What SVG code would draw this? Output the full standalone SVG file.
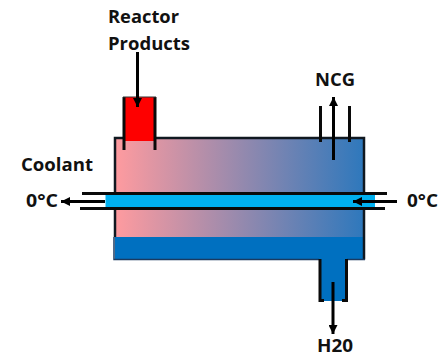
<svg xmlns="http://www.w3.org/2000/svg" width="446" height="355" viewBox="0 0 446 355">
<style>
text{font-family:"Open Sans","Liberation Sans",sans-serif;font-weight:700;font-size:18px;fill:#111}
.w{stroke:#0a0a0a;stroke-width:3;fill:none}
.a{stroke:#000;stroke-width:3;fill:none;marker-end:url(#ah)}
</style>
<defs>
<linearGradient id="g" x1="0" x2="1" y1="0" y2="0"><stop offset="0" stop-color="#ff9b9f"/><stop offset="1" stop-color="#2e78bc"/></linearGradient>
<marker id="ah" markerUnits="userSpaceOnUse" markerWidth="10" markerHeight="9" refX="9" refY="4.500" orient="auto"><path d="M0 0L9 4.500L0 9Z" fill="#000"/></marker>
</defs>
<rect width="446" height="355" fill="#fff"/>
<g id="condenser-body">
<rect x="115" y="139" width="249" height="120" fill="url(#g)"/>
<rect x="115" y="237" width="249" height="22" fill="#0070c0"/>
<path d="M115 237V138H364V259.500" fill="none" stroke="#101820" stroke-width="2.500"/>
<path d="M114 237V259.500H319M347 259.500H365" fill="none" stroke="#1a3a60" stroke-width="1.500"/>
</g>
<g id="inlet-nozzle">
<rect x="124" y="97" width="31" height="44" fill="#fe0000"/>
<path class="w" d="M124 97V150M155 97V150"/>
<path d="M123 97H156" stroke="#333" stroke-width="1"/>
</g>
<g id="vent-nozzle">
<path class="w" d="M320.500 106V142M349.500 106V142"/>
</g>
<g id="drain-nozzle">
<rect x="320" y="258" width="27" height="43" fill="#0070c0"/>
<path class="w" d="M320 259V300.500H324M346.500 259V300.500H342"/>
</g>
<g id="coolant-tube">
<rect x="105.500" y="194.500" width="269.500" height="13.500" fill="#00b0f0"/>
<path class="w" d="M82 193.500H387M80 208.500H385"/>
</g>
<g id="connectors">
<path class="a" d="M137.500 52V107"/>
<path class="a" d="M333.500 160V97"/>
<path class="a" d="M333 282V334"/>
<path class="a" d="M105 201.500H61"/>
<path class="a" d="M397 201.500H353"/>
</g>
<g id="labels">
<text x="108" y="23" textLength="71" lengthAdjust="spacingAndGlyphs">Reactor</text>
<text x="108" y="50" textLength="82" lengthAdjust="spacingAndGlyphs">Products</text>
<text x="315" y="86" textLength="40" lengthAdjust="spacingAndGlyphs">NCG</text>
<text x="21" y="170.500" textLength="72" lengthAdjust="spacingAndGlyphs">Coolant</text>
<text x="26" y="207" textLength="32" lengthAdjust="spacingAndGlyphs">0°C</text>
<text x="407" y="207" textLength="31" lengthAdjust="spacingAndGlyphs">0°C</text>
<text x="317" y="351.500" textLength="36" lengthAdjust="spacingAndGlyphs">H20</text>
</g>
</svg>
